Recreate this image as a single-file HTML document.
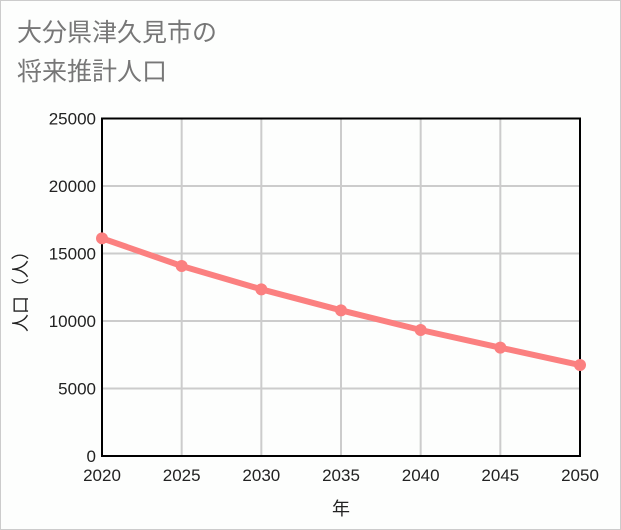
<!DOCTYPE html>
<html><head><meta charset="utf-8"><style>
body{margin:0;background:#fff;}
#wrap{position:relative;width:619px;height:528px;border:1px solid #ccc;background:#fdfefd;font-family:"Liberation Sans","Noto Sans CJK JP",sans-serif;}
.title{position:absolute;left:16px;top:13px;font-size:25px;line-height:39px;color:#777;}
</style></head><body>
<div id="wrap">
<div class="title">大分県津久見市の<br>将来推計人口</div>
<svg id="chart" width="619" height="528" style="position:absolute;left:0;top:0"></svg>
</div>
<script>
const years=[2020,2025,2030,2035,2040,2045,2050];
const population=[16125,14074,12346,10790,9333,8025,6740];
const yTicks=[0,5000,10000,15000,20000,25000];
const X0=101,X1=579,Y0=455,Y1=117.5;
const xs=v=>X0+(v-2020)/30*(X1-X0);
const ys=v=>Y0-v/25000*(Y0-Y1);
const svg=document.getElementById('chart');
const NS='http://www.w3.org/2000/svg';
function mk(t,a){const e=document.createElementNS(NS,t);for(const k in a)e.setAttribute(k,a[k]);svg.appendChild(e);return e;}
yTicks.forEach(t=>{
 const l=mk('line',{x1:X0,x2:X1,y1:ys(t),y2:ys(t),stroke:'#ccc','stroke-width':2});
 
 
 const tx=mk('text',{x:95,y:ys(t)+6,'text-anchor':'end','font-size':17,fill:'#222'});
 tx.textContent=t;
 
 
});
years.forEach(y=>{
 const l=mk('line',{x1:xs(y),x2:xs(y),y1:Y1,y2:Y0,stroke:'#ccc','stroke-width':2});
 
 
 const tx=mk('text',{x:xs(y),y:480,'text-anchor':'middle','font-size':17,fill:'#222'});
 tx.textContent=y;
 
 
});
const fr=mk('rect',{x:X0,y:Y1,width:X1-X0,height:Y0-Y1,fill:'none',stroke:'#000','stroke-width':2});


const pl=mk('polyline',{points:years.map((y,i)=>xs(y)+','+ys(population[i])).join(' '),fill:'none',stroke:'#fb8080','stroke-width':6});


years.forEach((y,i)=>{
 const c=mk('circle',{cx:xs(y),cy:ys(population[i]),r:6,fill:'#fb8080'});
 
 
});
const xt=mk('text',{x:340,y:514,'text-anchor':'middle','font-size':18,fill:'#222'});
xt.textContent='年';


const yt=mk('text',{x:0,y:0,'text-anchor':'middle','font-size':18,fill:'#222',transform:'translate(26,286) rotate(-90)'});
yt.textContent='人口（人）';


</script>
</body></html>
